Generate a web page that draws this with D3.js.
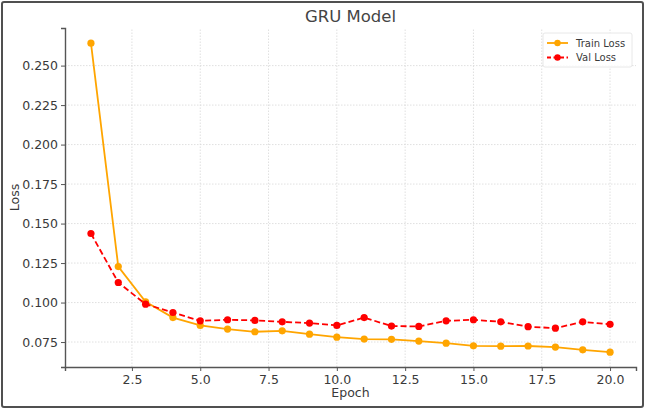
<!DOCTYPE html>
<html>
<head>
<meta charset="utf-8">
<script src="https://cdn.jsdelivr.net/npm/d3@7"></script>
<style>
  body { margin: 0; background: #fff; }
  text { font-family: "DejaVu Sans", sans-serif; }
</style>
</head>
<body>
<div id="chart"></div>
<script>
const epochs = d3.range(1, 21);
const trainLoss = [0.2642, 0.1228, 0.1005, 0.0905, 0.0855, 0.0832, 0.0815, 0.0821, 0.0800, 0.0781,
                   0.0769, 0.0767, 0.0756, 0.0743, 0.0726, 0.0724, 0.0725, 0.0718, 0.0701, 0.0686];
const valLoss = [0.1437, 0.1127, 0.0990, 0.0937, 0.0884, 0.0891, 0.0887, 0.0878, 0.0870, 0.0855,
                 0.0905, 0.0851, 0.0849, 0.0884, 0.0891, 0.0878, 0.0847, 0.0838, 0.0878, 0.0862];
const xTicks = [2.5, 5.0, 7.5, 10.0, 12.5, 15.0, 17.5, 20.0];
const yTicks = [0.075, 0.100, 0.125, 0.150, 0.175, 0.200, 0.225, 0.250];

const width = 645;
const height = 410;
const margin = { top: 28, right: 9, bottom: 43, left: 65 };

const svg = d3.select('#chart').append('svg')
    .attr('width', width)
    .attr('height', height);

// outer frame
svg.append('rect')
    .attr('x', 2)
    .attr('y', 2)
    .attr('width', width - 4)
    .attr('height', height - 5)
    .attr('rx', 2)
    .attr('fill', 'none')
    .attr('stroke', '#505050')
    .attr('stroke-width', 2);

const x = d3.scaleLinear()
    .domain([0.05, 20.95])
    .range([margin.left, width - margin.right]);

const y = d3.scaleLinear()
    .domain([0.0592, 0.2738])
    .range([height - margin.bottom, margin.top]);

// grid
svg.append('g')
  .selectAll('line')
  .data(xTicks)
  .join('line')
    .attr('x1', d => x(d))
    .attr('x2', d => x(d))
    .attr('y1', y.range()[0])
    .attr('y2', y.range()[1])
    .attr('stroke', '#d8d8d8')
    .attr('stroke-width', 0.8)
    .attr('stroke-dasharray', '1.5,1.5');

svg.append('g')
  .selectAll('line')
  .data(yTicks)
  .join('line')
    .attr('x1', x.range()[0])
    .attr('x2', x.range()[1])
    .attr('y1', d => y(d))
    .attr('y2', d => y(d))
    .attr('stroke', '#d8d8d8')
    .attr('stroke-width', 0.8)
    .attr('stroke-dasharray', '1.5,1.5');

// axes
const xAxis = svg.append('g')
    .attr('transform', `translate(0,${height - margin.bottom})`)
    .call(d3.axisBottom(x).tickValues(xTicks).tickFormat(d3.format('.1f')).tickSizeOuter(0).tickSize(4).tickPadding(4));

const yAxis = svg.append('g')
    .attr('transform', `translate(${margin.left},0)`)
    .call(d3.axisLeft(y).tickValues(yTicks).tickFormat(d3.format('.3f')).tickSizeOuter(0).tickSize(4).tickPadding(3));

[xAxis, yAxis].forEach(g => {
  g.select('.domain').attr('stroke', '#555').attr('stroke-width', 1.4);
  g.selectAll('.tick line').attr('stroke', '#555').attr('stroke-width', 1);
  g.selectAll('.tick text')
      .attr('fill', '#3a3a3a')
      .attr('font-size', 12.5)
      .attr('font-family', '"DejaVu Sans", sans-serif');
});

// lines
const line = d3.line()
    .x((d, i) => x(epochs[i]))
    .y(d => y(d));

svg.append('path')
    .datum(trainLoss)
    .attr('fill', 'none')
    .attr('stroke', '#FFA500')
    .attr('stroke-width', 1.8)
    .attr('d', line);

svg.append('g')
  .selectAll('circle')
  .data(trainLoss)
  .join('circle')
    .attr('cx', (d, i) => x(epochs[i]))
    .attr('cy', d => y(d))
    .attr('r', 3.6)
    .attr('fill', '#FFA500');

svg.append('path')
    .datum(valLoss)
    .attr('fill', 'none')
    .attr('stroke', '#FF0000')
    .attr('stroke-width', 1.8)
    .attr('stroke-dasharray', '6,3')
    .attr('d', line);

svg.append('g')
  .selectAll('circle')
  .data(valLoss)
  .join('circle')
    .attr('cx', (d, i) => x(epochs[i]))
    .attr('cy', d => y(d))
    .attr('r', 3.6)
    .attr('fill', '#FF0000');

// title and labels
svg.append('text')
    .attr('x', (x.range()[0] + x.range()[1]) / 2)
    .attr('y', 22)
    .attr('text-anchor', 'middle')
    .attr('font-size', 16.5)
    .attr('fill', '#444')
    .text('GRU Model');

svg.append('text')
    .attr('x', (x.range()[0] + x.range()[1]) / 2)
    .attr('y', 397)
    .attr('text-anchor', 'middle')
    .attr('font-size', 12.5)
    .attr('fill', '#3a3a3a')
    .text('Epoch');

svg.append('text')
    .attr('transform', `translate(19,${(y.range()[0] + y.range()[1]) / 2}) rotate(-90)`)
    .attr('text-anchor', 'middle')
    .attr('font-size', 12.5)
    .attr('fill', '#3a3a3a')
    .text('Loss');

// legend
const legend = svg.append('g')
    .attr('transform', 'translate(543,33)');

legend.append('rect')
    .attr('width', 89)
    .attr('height', 34)
    .attr('rx', 2)
    .attr('fill', '#fff')
    .attr('fill-opacity', 0.85)
    .attr('stroke', '#e2e2e2')
    .attr('stroke-width', 0.8);

const items = [
  { label: 'Train Loss', color: '#FFA500', dash: null },
  { label: 'Val Loss', color: '#FF0000', dash: '4,2.5' }
];

const row = legend.selectAll('.item')
  .data(items)
  .join('g')
    .attr('class', 'item')
    .attr('transform', (d, i) => `translate(0,${10 + i * 14.5})`);

row.append('line')
    .attr('x1', 4)
    .attr('x2', 25)
    .attr('stroke', d => d.color)
    .attr('stroke-width', 1.8)
    .attr('stroke-dasharray', d => d.dash);

row.append('circle')
    .attr('cx', 14.5)
    .attr('r', 3.2)
    .attr('fill', d => d.color);

row.append('text')
    .attr('x', 33)
    .attr('dy', '0.35em')
    .attr('font-size', 10)
    .attr('fill', '#3a3a3a')
    .text(d => d.label);
</script>
</body>
</html>
